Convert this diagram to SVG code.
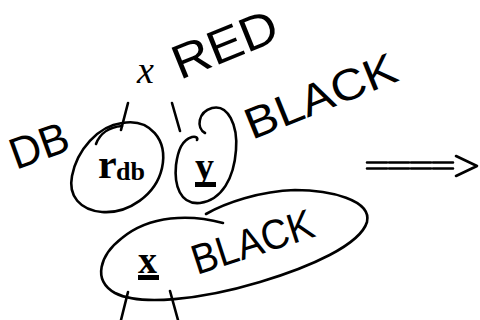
<svg xmlns="http://www.w3.org/2000/svg" width="480" height="320" viewBox="0 0 480 320">
<style>
.s{fill:none;stroke:#000;stroke-width:2.6;stroke-linecap:round;stroke-linejoin:round}
.h{font-family:"Liberation Sans",Arial,sans-serif;fill:#000}
.p{font-family:"Liberation Serif","Times New Roman",serif;font-weight:bold;fill:#000}
</style>
<rect width="480" height="320" fill="#fff"/>
<g id="label-db"><text class="h" x="16" y="170" font-size="44" transform="rotate(-20 16 170)" textLength="60" lengthAdjust="spacingAndGlyphs">DB</text></g>
<g id="label-xred">
<text x="137" y="83" font-family="Liberation Serif,serif" font-style="italic" font-size="38" fill="#000">x</text>
<text class="h" x="180" y="80" font-size="48" transform="rotate(-22 180 80)" textLength="110" lengthAdjust="spacingAndGlyphs">RED</text>
</g>
<g id="label-black1"><text class="h" x="252" y="140" font-size="44" transform="rotate(-22 252 140)" textLength="160" lengthAdjust="spacingAndGlyphs">BLACK</text></g>
<g id="node-rdb">
<path class="s" d="M122 123 C150 118 168 140 162 168 C156 195 128 214 102 212 C80 210 68 196 72 176 C77 150 98 126 122 123 Z"/>
<path class="s" d="M96 144 C100 133 110 127 122 126"/>
<text class="p" x="98" y="178" font-size="42">r</text>
<text class="p" x="116" y="180" font-size="26">db</text>
</g>
<g id="node-y">
<path class="s" d="M205 133 C196 128 198 112 212 108 C228 104 238 125 236 150 C234 178 222 200 200 203 C180 205 174 185 176 165 C178 150 182 140 192 137 C196 136 198 138 197 140"/>
<text class="p" x="195" y="179" font-size="38">y</text>
<rect x="195" y="182" width="21" height="5" fill="#000"/>
</g>
<g id="node-x">
<path class="s" d="M223 223 C190 214 150 215 122 238 C100 255 92 280 115 293 C140 306 200 300 260 282 C310 267 360 245 367 222 C372 200 330 190 295 190 C260 191 225 203 206 214"/>
<text class="p" x="138" y="273" font-size="38">x</text>
<rect x="138" y="275" width="21" height="5" fill="#000"/>
<text class="h" x="197" y="275" font-size="42" transform="rotate(-18 197 275)" textLength="126" lengthAdjust="spacingAndGlyphs">BLACK</text>
</g>
<g id="connectors">
<line class="s" x1="128" y1="103" x2="121" y2="130"/>
<line class="s" x1="172" y1="103" x2="180" y2="131"/>
<line class="s" x1="128" y1="292" x2="121" y2="320"/>
<line class="s" x1="170" y1="291" x2="178" y2="320"/>
<line class="s" x1="367" y1="162.5" x2="455" y2="162.5" stroke-dasharray="20 2"/>
<line class="s" x1="367" y1="168.5" x2="455" y2="168.5" stroke-dasharray="20 2"/>
<polyline class="s" points="456,156 477,166 456,176"/>
</g>
</svg>
